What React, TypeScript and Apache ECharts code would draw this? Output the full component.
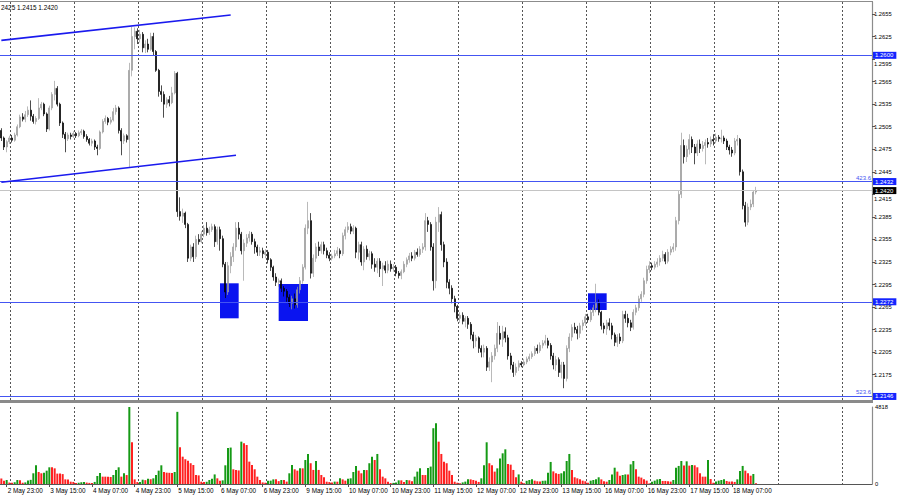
import React, { useEffect, useRef } from "react";
import * as echarts from "echarts";

// ---- time axis (H1 bars, trading days only) ----
const dayBlocks: [string, number, number][] = [
  ["2 May", 21, 23], ["3 May", 0, 23], ["4 May", 0, 23], ["5 May", 0, 23], ["6 May", 0, 23],
  ["9 May", 0, 23], ["10 May", 0, 23], ["11 May", 0, 23], ["12 May", 0, 23], ["13 May", 0, 23],
  ["16 May", 0, 23], ["17 May", 0, 23], ["18 May", 0, 16],
];
const futureSlots = 43;
const timeLabels = [
  "2 May 23:00", "3 May 15:00", "4 May 07:00", "4 May 23:00", "5 May 15:00", "6 May 07:00",
  "6 May 23:00", "9 May 15:00", "10 May 07:00", "10 May 23:00", "11 May 15:00", "12 May 07:00",
  "12 May 23:00", "13 May 15:00", "16 May 07:00", "16 May 23:00", "17 May 15:00", "18 May 07:00",
];
const priceTicks = [
  1.2175, 1.2205, 1.2235, 1.2265, 1.2295, 1.2325, 1.2355, 1.2385, 1.2415, 1.2445,
  1.2475, 1.2505, 1.2535, 1.2565, 1.2595, 1.2625, 1.2655,
];
// tick labels that sit partly under a price box in the terminal
const tucked = ["1.2595", "1.2415"];
const volumeTicks = [0, 4818];
const headerText = "2425 1.2415 1.2420";

// ---- OHLC: [open, close, low, high] ----
const ohlc: number[][] = [
  [1.2500,1.2490,1.2486,1.2503],[1.2490,1.2478,1.2474,1.2492],[1.2478,1.2485,1.2471,1.2487],[1.2485,1.2490,1.2482,1.2493],
  [1.2490,1.2487,1.2484,1.2494],[1.2487,1.2494,1.2485,1.2497],[1.2494,1.2505,1.2492,1.2508],[1.2505,1.2518,1.2503,1.2521],
  [1.2518,1.2515,1.2512,1.2523],[1.2515,1.2521,1.2511,1.2526],[1.2521,1.2527,1.2518,1.2532],[1.2527,1.2519,1.2513,1.2540],
  [1.2519,1.2512,1.2509,1.2522],[1.2512,1.2516,1.2508,1.2519],[1.2516,1.2530,1.2514,1.2543],[1.2530,1.2535,1.2527,1.2538],
  [1.2535,1.2522,1.2519,1.2537],[1.2522,1.2502,1.2498,1.2524],[1.2502,1.2530,1.2500,1.2533],[1.2530,1.2548,1.2527,1.2551],
  [1.2548,1.2556,1.2540,1.2566],[1.2556,1.2535,1.2532,1.2559],[1.2535,1.2510,1.2506,1.2537],[1.2510,1.2495,1.2490,1.2512],
  [1.2495,1.2489,1.2471,1.2498],[1.2489,1.2494,1.2486,1.2497],[1.2494,1.2492,1.2488,1.2497],[1.2492,1.2496,1.2490,1.2499],
  [1.2496,1.2493,1.2490,1.2498],[1.2493,1.2497,1.2491,1.2500],[1.2497,1.2499,1.2494,1.2502],[1.2499,1.2492,1.2489,1.2501],
  [1.2492,1.2488,1.2485,1.2495],[1.2488,1.2483,1.2480,1.2490],[1.2483,1.2486,1.2479,1.2489],[1.2486,1.2478,1.2474,1.2488],
  [1.2478,1.2476,1.2467,1.2481],[1.2476,1.2498,1.2474,1.2500],[1.2498,1.2512,1.2496,1.2515],[1.2512,1.2516,1.2509,1.2520],
  [1.2516,1.2511,1.2507,1.2518],[1.2511,1.2514,1.2508,1.2518],[1.2514,1.2525,1.2512,1.2530],[1.2525,1.2530,1.2521,1.2534],
  [1.2530,1.2500,1.2496,1.2532],[1.2500,1.2486,1.2467,1.2503],[1.2486,1.2493,1.2482,1.2496],[1.2493,1.2488,1.2484,1.2495],
  [1.2488,1.2580,1.2451,1.2590],[1.2580,1.2625,1.2572,1.2638],[1.2625,1.2632,1.2608,1.2637],[1.2632,1.2622,1.2615,1.2636],
  [1.2622,1.2628,1.2617,1.2634],[1.2628,1.2610,1.2604,1.2631],[1.2610,1.2615,1.2603,1.2620],[1.2615,1.2608,1.2604,1.2622],
  [1.2608,1.2625,1.2606,1.2630],[1.2625,1.2605,1.2600,1.2630],[1.2605,1.2580,1.2578,1.2607],[1.2580,1.2552,1.2545,1.2582],
  [1.2552,1.2548,1.2538,1.2560],[1.2548,1.2535,1.2517,1.2552],[1.2535,1.2541,1.2530,1.2544],[1.2541,1.2537,1.2532,1.2546],
  [1.2537,1.2550,1.2535,1.2558],[1.2550,1.2576,1.2548,1.2579],[1.2576,1.2392,1.2385,1.2578],[1.2392,1.2386,1.2380,1.2411],
  [1.2386,1.2390,1.2377,1.2396],[1.2390,1.2375,1.2370,1.2392],[1.2375,1.2330,1.2325,1.2377],[1.2330,1.2345,1.2326,1.2348],
  [1.2345,1.2332,1.2325,1.2350],[1.2332,1.2355,1.2329,1.2360],[1.2355,1.2352,1.2348,1.2362],[1.2352,1.2362,1.2350,1.2366],
  [1.2362,1.2370,1.2358,1.2374],[1.2370,1.2364,1.2360,1.2378],[1.2364,1.2368,1.2361,1.2372],[1.2368,1.2372,1.2365,1.2376],
  [1.2372,1.2352,1.2345,1.2375],[1.2352,1.2368,1.2348,1.2372],[1.2368,1.2356,1.2340,1.2372],[1.2356,1.2322,1.2318,1.2360],
  [1.2322,1.2285,1.2277,1.2325],[1.2285,1.2320,1.2281,1.2325],[1.2320,1.2332,1.2310,1.2338],[1.2332,1.2345,1.2325,1.2350],
  [1.2345,1.2370,1.2340,1.2378],[1.2370,1.2362,1.2355,1.2378],[1.2362,1.2340,1.2335,1.2365],[1.2340,1.2350,1.2300,1.2355],
  [1.2350,1.2357,1.2345,1.2362],[1.2357,1.2362,1.2352,1.2366],[1.2362,1.2352,1.2348,1.2365],[1.2352,1.2345,1.2336,1.2356],
  [1.2345,1.2338,1.2333,1.2348],[1.2338,1.2340,1.2333,1.2345],[1.2340,1.2336,1.2330,1.2344],[1.2335,1.2338,1.2330,1.2342],
  [1.2338,1.2328,1.2323,1.2341],[1.2328,1.2318,1.2313,1.2330],[1.2318,1.2305,1.2300,1.2320],[1.2305,1.2298,1.2293,1.2310],
  [1.2298,1.2300,1.2292,1.2303],[1.2300,1.2290,1.2285,1.2303],[1.2290,1.2286,1.2279,1.2293],[1.2286,1.2278,1.2272,1.2289],
  [1.2278,1.2270,1.2265,1.2282],[1.2270,1.2276,1.2262,1.2280],[1.2276,1.2268,1.2263,1.2283],[1.2268,1.2288,1.2264,1.2292],
  [1.2288,1.2300,1.2283,1.2305],[1.2300,1.2318,1.2296,1.2322],[1.2318,1.2370,1.2315,1.2375],[1.2370,1.2380,1.2362,1.2405],
  [1.2380,1.2310,1.2303,1.2390],[1.2310,1.2330,1.2305,1.2335],[1.2330,1.2345,1.2325,1.2350],[1.2345,1.2340,1.2333,1.2352],
  [1.2340,1.2348,1.2336,1.2352],[1.2348,1.2340,1.2335,1.2352],[1.2340,1.2334,1.2330,1.2344],[1.2334,1.2330,1.2326,1.2338],
  [1.2330,1.2333,1.2327,1.2336],[1.2333,1.2336,1.2330,1.2341],[1.2336,1.2340,1.2333,1.2345],[1.2340,1.2336,1.2330,1.2343],
  [1.2336,1.2360,1.2333,1.2364],[1.2360,1.2368,1.2355,1.2372],[1.2368,1.2372,1.2364,1.2378],[1.2372,1.2366,1.2362,1.2376],
  [1.2366,1.2370,1.2362,1.2374],[1.2370,1.2338,1.2330,1.2372],[1.2338,1.2348,1.2328,1.2352],[1.2348,1.2325,1.2320,1.2352],
  [1.2325,1.2342,1.2314,1.2346],[1.2342,1.2332,1.2328,1.2347],[1.2332,1.2336,1.2327,1.2340],[1.2336,1.2322,1.2316,1.2339],
  [1.2322,1.2318,1.2312,1.2330],[1.2318,1.2326,1.2310,1.2330],[1.2326,1.2316,1.2305,1.2330],[1.2316,1.2320,1.2293,1.2324],
  [1.2320,1.2314,1.2310,1.2326],[1.2314,1.2322,1.2310,1.2327],[1.2322,1.2316,1.2312,1.2327],[1.2316,1.2318,1.2312,1.2322],
  [1.2318,1.2310,1.2306,1.2321],[1.2310,1.2307,1.2303,1.2313],[1.2307,1.2312,1.2302,1.2315],[1.2312,1.2322,1.2310,1.2326],
  [1.2322,1.2328,1.2318,1.2331],[1.2328,1.2333,1.2324,1.2337],[1.2333,1.2330,1.2326,1.2338],[1.2330,1.2338,1.2327,1.2341],
  [1.2338,1.2335,1.2332,1.2343],[1.2335,1.2342,1.2332,1.2346],[1.2342,1.2345,1.2337,1.2350],[1.2345,1.2380,1.2340,1.2390],
  [1.2380,1.2375,1.2365,1.2385],[1.2375,1.2345,1.2340,1.2378],[1.2345,1.2300,1.2287,1.2350],[1.2300,1.2378,1.2290,1.2385],
  [1.2378,1.2388,1.2365,1.2398],[1.2388,1.2348,1.2340,1.2392],[1.2348,1.2325,1.2318,1.2352],[1.2325,1.2298,1.2290,1.2330],
  [1.2298,1.2290,1.2282,1.2302],[1.2290,1.2276,1.2270,1.2294],[1.2276,1.2266,1.2258,1.2280],[1.2266,1.2250,1.2246,1.2268],
  [1.2250,1.2254,1.2244,1.2258],[1.2254,1.2246,1.2242,1.2258],[1.2246,1.2250,1.2238,1.2253],[1.2250,1.2242,1.2236,1.2253],
  [1.2242,1.2228,1.2222,1.2245],[1.2228,1.2220,1.2210,1.2232],[1.2220,1.2224,1.2212,1.2228],[1.2224,1.2210,1.2204,1.2226],
  [1.2210,1.2205,1.2198,1.2214],[1.2205,1.2210,1.2198,1.2215],[1.2210,1.2185,1.2180,1.2213],[1.2185,1.2192,1.2180,1.2198],
  [1.2192,1.2200,1.2165,1.2205],[1.2200,1.2210,1.2195,1.2215],[1.2210,1.2230,1.2205,1.2245],[1.2230,1.2222,1.2215,1.2240],
  [1.2222,1.2232,1.2212,1.2240],[1.2232,1.2224,1.2218,1.2238],[1.2224,1.2200,1.2195,1.2228],[1.2200,1.2188,1.2182,1.2204],
  [1.2188,1.2178,1.2172,1.2192],[1.2178,1.2185,1.2174,1.2190],[1.2185,1.2190,1.2180,1.2194],[1.2190,1.2188,1.2185,1.2193],
  [1.2188,1.2192,1.2186,1.2196],[1.2192,1.2196,1.2189,1.2199],[1.2196,1.2199,1.2193,1.2203],[1.2199,1.2203,1.2196,1.2206],
  [1.2203,1.2210,1.2200,1.2213],[1.2210,1.2207,1.2203,1.2215],[1.2207,1.2214,1.2204,1.2218],[1.2214,1.2217,1.2210,1.2221],
  [1.2217,1.2220,1.2214,1.2228],[1.2220,1.2214,1.2210,1.2224],[1.2214,1.2200,1.2195,1.2217],[1.2200,1.2188,1.2182,1.2204],
  [1.2188,1.2195,1.2180,1.2200],[1.2195,1.2178,1.2172,1.2198],[1.2178,1.2188,1.2170,1.2192],[1.2188,1.2170,1.2157,1.2192],
  [1.2170,1.2210,1.2166,1.2214],[1.2210,1.2225,1.2205,1.2230],[1.2225,1.2238,1.2220,1.2242],[1.2238,1.2235,1.2230,1.2244],
  [1.2235,1.2230,1.2222,1.2240],[1.2230,1.2240,1.2224,1.2244],[1.2240,1.2244,1.2234,1.2248],[1.2244,1.2252,1.2240,1.2256],
  [1.2252,1.2248,1.2244,1.2256],[1.2248,1.2258,1.2245,1.2262],[1.2258,1.2264,1.2253,1.2268],[1.2264,1.2270,1.2258,1.2296],
  [1.2270,1.2258,1.2254,1.2275],[1.2258,1.2240,1.2235,1.2260],[1.2240,1.2236,1.2230,1.2244],[1.2236,1.2244,1.2228,1.2248],
  [1.2244,1.2240,1.2234,1.2250],[1.2240,1.2228,1.2222,1.2244],[1.2228,1.2218,1.2213,1.2231],[1.2218,1.2225,1.2212,1.2229],
  [1.2225,1.2220,1.2216,1.2230],[1.2220,1.2255,1.2217,1.2260],[1.2255,1.2250,1.2244,1.2260],[1.2250,1.2244,1.2238,1.2256],
  [1.2244,1.2238,1.2233,1.2248],[1.2238,1.2258,1.2235,1.2262],[1.2258,1.2264,1.2254,1.2268],[1.2264,1.2276,1.2260,1.2280],
  [1.2276,1.2282,1.2272,1.2286],[1.2282,1.2300,1.2278,1.2304],[1.2300,1.2315,1.2296,1.2320],[1.2315,1.2320,1.2310,1.2326],
  [1.2320,1.2318,1.2314,1.2324],[1.2318,1.2322,1.2315,1.2326],[1.2322,1.2325,1.2318,1.2330],[1.2325,1.2330,1.2320,1.2334],
  [1.2330,1.2335,1.2326,1.2340],[1.2335,1.2326,1.2322,1.2338],[1.2326,1.2338,1.2323,1.2342],[1.2338,1.2342,1.2334,1.2346],
  [1.2342,1.2345,1.2338,1.2350],[1.2345,1.2380,1.2340,1.2385],[1.2380,1.2415,1.2375,1.2420],[1.2415,1.2480,1.2410,1.2497],
  [1.2480,1.2465,1.2456,1.2488],[1.2465,1.2475,1.2458,1.2480],[1.2475,1.2488,1.2468,1.2495],[1.2488,1.2478,1.2470,1.2492],
  [1.2478,1.2470,1.2455,1.2482],[1.2470,1.2482,1.2466,1.2487],[1.2482,1.2476,1.2470,1.2488],[1.2476,1.2480,1.2472,1.2486],
  [1.2480,1.2484,1.2455,1.2488],[1.2484,1.2482,1.2477,1.2490],[1.2482,1.2488,1.2478,1.2492],[1.2488,1.2486,1.2480,1.2495],
  [1.2486,1.2491,1.2483,1.2496],[1.2491,1.2489,1.2485,1.2494],[1.2489,1.2490,1.2484,1.2501],[1.2490,1.2486,1.2482,1.2493],
  [1.2486,1.2478,1.2474,1.2489],[1.2478,1.2474,1.2468,1.2481],[1.2474,1.2470,1.2465,1.2478],[1.2470,1.2486,1.2467,1.2490],
  [1.2486,1.2488,1.2480,1.2494],[1.2488,1.2445,1.2440,1.2490],[1.2445,1.2400,1.2395,1.2448],[1.2400,1.2378,1.2372,1.2405],
  [1.2378,1.2398,1.2374,1.2403],[1.2398,1.2402,1.2394,1.2408],[1.2402,1.2418,1.2398,1.2420],[1.2418,1.2420,1.2415,1.2425],
];

const volumes = [
  350,200,250,90,80,110,250,240,80,100,
  220,260,670,1170,750,670,710,835,1045,1045,
  980,650,650,620,290,280,145,130,60,80,
  110,130,90,70,60,130,500,690,460,460,
  460,440,565,880,1045,460,670,560,4818,2610,
  290,120,130,270,240,330,300,355,565,835,
  1170,750,710,700,690,750,4515,2300,1710,1550,
  1460,1300,1190,565,540,145,120,140,250,335,
  600,355,210,230,1170,2260,2280,920,880,850,
  2650,2550,2440,1400,1190,920,460,250,100,80,
  200,210,290,290,180,250,250,150,670,1190,
  920,835,980,980,1500,1880,1300,880,1440,880,
  565,420,145,120,100,150,145,355,290,210,
  330,355,750,1130,835,670,880,870,1300,1710,
  1500,1880,920,460,355,145,60,70,100,230,
  230,130,250,230,170,460,775,980,565,560,
  1000,1090,3490,3800,2650,1880,1400,1300,835,565,
  145,80,40,100,150,290,290,250,210,130,
  355,1170,2610,1300,1170,775,980,1590,1920,2170,
  1255,1210,880,420,600,145,40,200,250,290,
  210,170,150,200,210,710,1380,790,670,630,
  670,790,1440,1880,880,420,355,290,210,170,
  80,210,250,290,420,290,170,145,250,600,
  1020,775,520,565,600,600,1230,1440,920,460,
  400,290,210,40,145,210,290,310,190,190,
  170,150,250,1020,1130,1440,1150,1420,1150,1190,
  1170,1045,670,460,460,1500,310,80,150,210,
  250,290,190,150,150,130,290,815,1130,835,
  670,520,625,40,
];

// ---- horizontal levels & annotations ----
const blueLevels = [1.26, 1.2432, 1.2272, 1.2146];
const fiboLabels: [number, string][] = [[1.2432, "423.6"], [1.2146, "523.6"]];
const bidPrice = 1.242;
const channelLines: [number, number, number, number][] = [
  // [startIndex, startPrice, endIndex, endPrice]
  [0, 1.26199, 86, 1.26537],
  [0, 1.24311, 88, 1.24671],
];
const boxes: [number, number, number, number][] = [
  // [fromIndex, toIndex, topPrice, bottomPrice]
  [82, 89, 1.22966, 1.225],
  [104, 115, 1.22957, 1.22464],
  [220, 227, 1.22833, 1.22611],
];

const FONT = "'Liberation Sans', Arial, sans-serif";
const BLUE = "#4455f2";

function buildCategories(): string[] {
  const cats: string[] = [];
  for (const [day, h0, h1] of dayBlocks) {
    for (let h = h0; h <= h1; h++) cats.push(`${day} ${String(h).padStart(2, "0")}:00`);
  }
  for (let k = 0; k < futureSlots; k++) cats.push(`+${k + 1}`);
  return cats;
}

export default function App() {
  const ref = useRef<HTMLDivElement>(null);
  useEffect(() => {
    if (!ref.current) return;
    const chart = echarts.init(ref.current, undefined, { renderer: "svg" });
    const cats = buildCategories();
    const labelSet = new Set(timeLabels);
    const gridFn = (idx: number) => (idx - 4) % 24 === 0;
    const labelFn = (_idx: number, value: string) => labelSet.has(value);

    const volData = volumes.map((v, i) => ({
      value: v,
      itemStyle: { color: i > 0 && v > volumes[i - 1] ? "#159a15" : "#ff2020" },
    }));

    const boxLabel = (text: string, bg: string) => ({
      show: true,
      position: "end",
      distance: 1,
      formatter: text,
      color: "#fff",
      backgroundColor: bg,
      fontSize: 6,
      fontFamily: FONT,
      padding: [1, 3, 0, 2],
    });

    const lineData: any[] = [];
    blueLevels.forEach((lv) => {
      lineData.push({
        yAxis: lv,
        lineStyle: { color: BLUE, width: 1, type: "solid" },
        label: boxLabel(lv.toFixed(4), "#1424ff"),
      });
    });
    fiboLabels.forEach(([lv, t]) => {
      lineData.push({
        yAxis: lv,
        lineStyle: { color: "rgba(0,0,0,0)", width: 1, type: "solid" },
        label: { show: true, position: "insideEndTop", distance: 1, formatter: t, color: BLUE, fontSize: 6, fontFamily: FONT },
      });
    });
    lineData.push({
      yAxis: bidPrice,
      lineStyle: { color: "#c4c4c4", width: 1, type: "solid" },
      label: boxLabel(bidPrice.toFixed(4), "#000"),
    });
    channelLines.forEach(([i0, p0, i1, p1]) => {
      lineData.push([
        { coord: [cats[i0], p0], lineStyle: { color: "#1a1aee", width: 1.6, type: "solid" }, label: { show: false } },
        { coord: [cats[i1], p1] },
      ]);
    });

    const priceLabel = (v: number) => {
      const s = v.toFixed(4);
      return tucked.includes(s) ? `{low|${s}}` : s;
    };

    const option: any = {
      animation: false,
      backgroundColor: "#fff",
      textStyle: { fontFamily: FONT },
      grid: [
        { left: 0, right: 28, top: 2, height: 398 },
        { left: 0, right: 28, top: 407, height: 77 },
      ],
      xAxis: [
        {
          type: "category", gridIndex: 0, data: cats, boundaryGap: true,
          axisLine: { show: false }, axisTick: { show: false }, axisLabel: { show: false },
          splitLine: { show: true, interval: gridFn, lineStyle: { color: "#555", type: [2, 2], width: 1 } },
        },
        {
          type: "category", gridIndex: 1, data: cats, boundaryGap: true,
          axisLine: { show: true, lineStyle: { color: "#555", width: 1 } },
          axisTick: { show: true, interval: labelFn, length: 3, alignWithLabel: true, lineStyle: { color: "#555" } },
          axisLabel: { show: true, interval: labelFn, align: "left", fontSize: 6.4, color: "#000", margin: 3, padding: [0, 0, 0, 1], fontFamily: FONT },
          splitLine: { show: true, interval: gridFn, lineStyle: { color: "#555", type: [2, 2], width: 1 } },
        },
      ],
      yAxis: [
        {
          type: "value", gridIndex: 0, position: "right", min: 1.214129, max: 1.267097,
          axisLine: { show: true, lineStyle: { color: "#8c8c8c", width: 1.2 } },
          axisTick: { show: true, length: 3, customValues: priceTicks, lineStyle: { color: "#555" } },
          axisLabel: {
            show: true, customValues: priceTicks, formatter: priceLabel, fontSize: 5.8, color: "#000", margin: 2, fontFamily: FONT,
            rich: { low: { fontSize: 5.8, color: "#000", fontFamily: FONT, padding: [9, 0, 0, 0] } },
          },
          splitLine: { show: false },
        },
        {
          type: "value", gridIndex: 1, position: "right", min: 0, max: 4818,
          axisLine: { show: true, lineStyle: { color: "#8c8c8c", width: 1.2 } },
          axisTick: { show: false },
          axisLabel: { show: true, customValues: volumeTicks, formatter: (v: number) => String(v), fontSize: 5.8, color: "#000", margin: 3, fontFamily: FONT },
          splitLine: { show: false },
        },
      ],
      series: [
        {
          type: "candlestick", xAxisIndex: 0, yAxisIndex: 0, data: ohlc, barWidth: 1.8,
          itemStyle: { color: "#9c9c9c", color0: "#000", borderColor: "#9c9c9c", borderColor0: "#000", borderWidth: 0.7 },
          markLine: {
            symbol: ["none", "none"], silent: true, animation: false, precision: 5, z: 10,
            lineStyle: { color: BLUE, width: 1, type: "solid" },
            data: lineData,
          },
          markArea: {
            silent: true,
            itemStyle: { color: "#0a14f0", opacity: 1 },
            data: boxes.map(([a, b, top, bot]) => [
              { xAxis: cats[a], yAxis: top },
              { xAxis: cats[b], yAxis: bot },
            ]),
          },
        },
        {
          type: "bar", xAxisIndex: 1, yAxisIndex: 1, data: volData, barWidth: 2,
        },
      ],
      graphic: [
        { type: "rect", shape: { x: 0, y: 400, width: 873, height: 3 }, style: { fill: "#8a8a8a" }, silent: true },
        { type: "line", shape: { x1: 0, y1: 1.5, x2: 873, y2: 1.5 }, style: { stroke: "#8c8c8c", lineWidth: 1 }, silent: true },
        { type: "text", x: 1, y: 4, style: { text: headerText, fontSize: 6.4, fill: "#000", fontFamily: FONT }, silent: true },
      ],
    };
    chart.setOption(option);
    return () => chart.dispose();
  }, []);
  return (
    <div
      ref={ref}
      style={{ position: "fixed", left: 0, top: 0, width: 900, height: 499, background: "#fff" }}
    />
  );
}
